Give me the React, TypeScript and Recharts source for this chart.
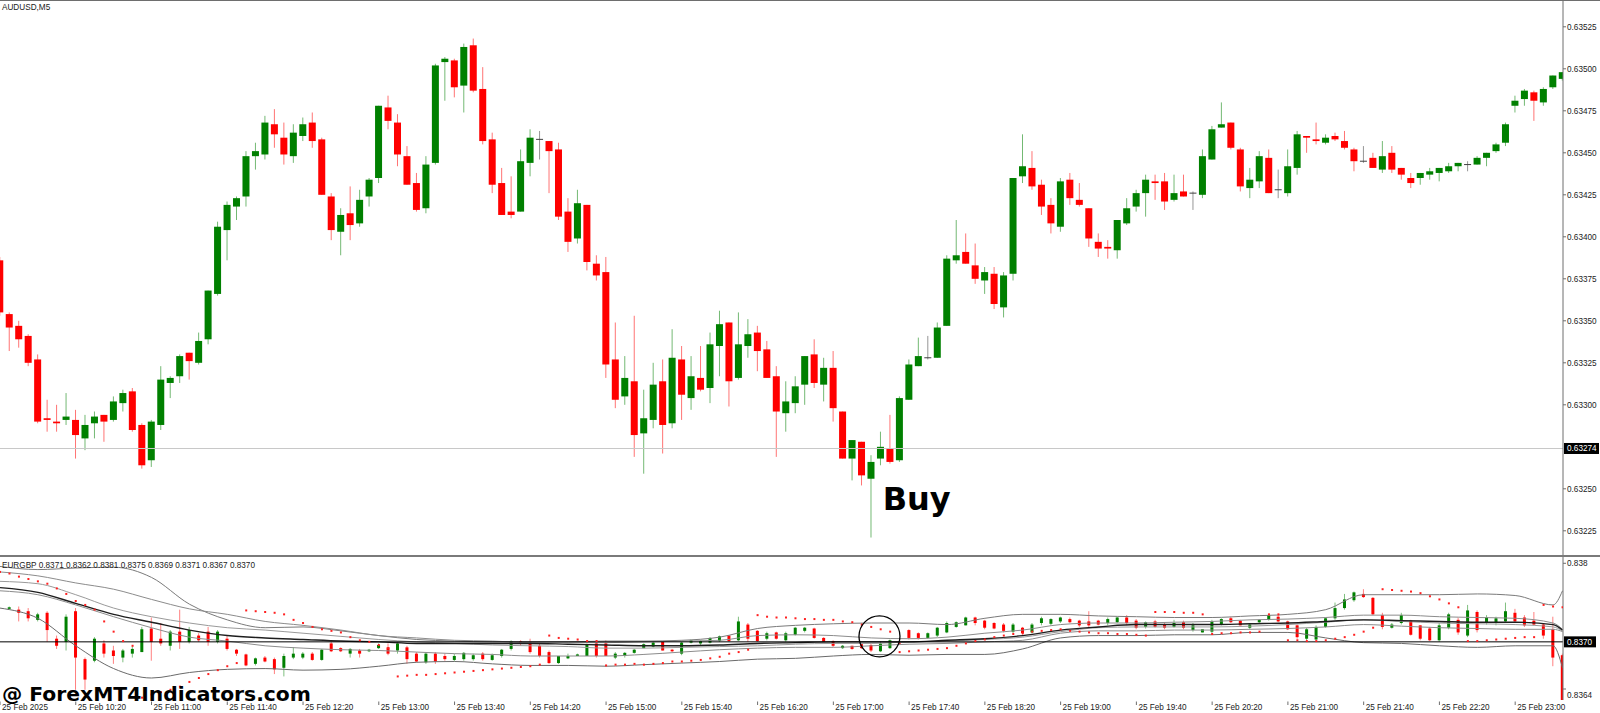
import React from 'react';
import { ComposedChart, Bar, Line, Scatter, XAxis, YAxis, ReferenceLine, ReferenceDot } from 'recharts';

// ---------------- Main panel: AUDUSD M5 ----------------
const mainOpen = [
  .63386,.63354,.63347,.63341,.63327,.63292,.63290,.63291,.63291,.63280,
  .63289,.63294,.63291,.63301,.63308,.63288,.63267,.63288,.63313,.63317,
  .63331,.63325,.63339,.63366,.63404,.63418,.63424,.63448,.63449,.63467,
  .63459,.63448,.63460,.63468,.63458,.63424,.63403,.63414,.63408,.63424,
  .63435,.63477,.63468,.63448,.63432,.63417,.63444,.63504,.63505,.63490,
  .63514,.63488,.63458,.63432,.63415,.63415,.63444,.63458,.63457,.63452,
  .63415,.63399,.63419,.63384,.63379,.63327,.63305,.63314,.63283,.63291,
  .63314,.63289,.63327,.63304,.63316,.63310,.63335,.63349,.63316,.63335,
  .63343,.63333,.63317,.63295,.63301,.63312,.63330,.63312,.63322,.63296,
  .63268,.63278,.63256,.63268,.63274,.63267,.63303,.63323,.63328,.63328,
  .63347,.63386,.63391,.63383,.63374,.63378,.63358,.63378,.63436,.63441,
  .63431,.63419,.63406,.63434,.63422,.63417,.63397,.63394,.63392,.63408,
  .63418,.63426,.63433,.63433,.63422,.63427,.63426,.63425,.63446,.63465,
  .63468,.63452,.63429,.63433,.63447,.63428,.63426,.63441,.63460,.63458,
  .63456,.63460,.63457,.63452,.63445,.63447,.63440,.63450,.63441,.63435,
  .63435,.63437,.63438,.63439,.63442,.63443,.63443,.63447,.63451,.63456,
  .63478,.63482,.63486,.63480,.63489,.63494,
];
const mainHigh = [
  .63388,.63355,.63350,.63342,.63330,.63303,.63300,.63307,.63297,.63294,
  .63296,.63294,.63305,.63309,.63310,.63289,.63291,.63323,.63317,.63330,
  .63331,.63343,.63368,.63409,.63421,.63424,.63451,.63456,.63472,.63476,
  .63468,.63467,.63471,.63474,.63459,.63426,.63417,.63430,.63428,.63435,
  .63478,.63484,.63473,.63454,.63438,.63448,.63503,.63507,.63506,.63515,
  .63518,.63501,.63462,.63441,.63436,.63452,.63464,.63463,.63457,.63456,
  .63423,.63428,.63419,.63389,.63388,.63349,.63329,.63353,.63309,.63325,
  .63327,.63345,.63335,.63329,.63335,.63343,.63356,.63349,.63355,.63351,
  .63347,.63338,.63323,.63314,.63317,.63329,.63339,.63328,.63332,.63296,
  .63279,.63278,.63270,.63284,.63294,.63305,.63327,.63340,.63341,.63349,
  .63389,.63410,.63402,.63396,.63382,.63382,.63379,.63435,.63461,.63451,
  .63434,.63423,.63435,.63438,.63432,.63417,.63402,.63398,.63410,.63423,
  .63428,.63437,.63437,.63438,.63437,.63437,.63427,.63452,.63466,.63480,
  .63468,.63453,.63441,.63451,.63452,.63440,.63452,.63463,.63460,.63468,
  .63461,.63462,.63463,.63453,.63454,.63450,.63457,.63454,.63441,.63438,
  .63438,.63441,.63441,.63444,.63444,.63445,.63448,.63450,.63456,.63468,
  .63484,.63488,.63487,.63489,.63496,.63498,
];
const mainLow = [
  .63353,.63332,.63334,.63323,.63289,.63284,.63284,.63288,.63268,.63273,
  .63280,.63278,.63290,.63296,.63284,.63262,.63263,.63285,.63304,.63313,
  .63315,.63324,.63336,.63365,.63386,.63410,.63418,.63440,.63446,.63453,
  .63443,.63444,.63457,.63453,.63425,.63398,.63389,.63398,.63406,.63418,
  .63432,.63464,.63442,.63431,.63415,.63414,.63443,.63481,.63483,.63474,
  .63486,.63455,.63426,.63413,.63411,.63415,.63436,.63446,.63426,.63410,
  .63391,.63396,.63380,.63374,.63316,.63298,.63300,.63269,.63259,.63286,
  .63271,.63286,.63291,.63297,.63308,.63301,.63317,.63299,.63315,.63328,
  .63320,.63316,.63269,.63284,.63295,.63300,.63310,.63302,.63290,.63268,
  .63255,.63252,.63221,.63264,.63265,.63266,.63303,.63323,.63327,.63328,
  .63347,.63384,.63384,.63372,.63366,.63357,.63352,.63374,.63432,.63428,
  .63413,.63402,.63403,.63419,.63418,.63394,.63388,.63387,.63387,.63407,
  .63415,.63412,.63422,.63416,.63421,.63424,.63416,.63423,.63446,.63465,
  .63452,.63427,.63423,.63429,.63426,.63423,.63424,.63437,.63450,.63455,
  .63455,.63457,.63452,.63439,.63444,.63441,.63438,.63438,.63434,.63429,
  .63431,.63434,.63433,.63438,.63439,.63439,.63443,.63442,.63450,.63454,
  .63474,.63478,.63469,.63478,.63488,.63493,
];
const mainClose = [
  .63355,.63346,.63339,.63325,.63290,.63291,.63289,.63293,.63282,.63288,
  .63293,.63290,.63302,.63307,.63285,.63264,.63290,.63315,.63316,.63329,
  .63326,.63338,.63368,.63406,.63419,.63423,.63448,.63451,.63468,.63461,
  .63449,.63462,.63467,.63457,.63425,.63404,.63413,.63407,.63422,.63434,
  .63478,.63469,.63449,.63431,.63416,.63443,.63502,.63506,.63489,.63513,
  .63487,.63457,.63431,.63413,.63413,.63445,.63459,.63458,.63451,.63412,
  .63397,.63420,.63385,.63377,.63324,.63303,.63316,.63282,.63292,.63312,
  .63288,.63328,.63306,.63317,.63309,.63336,.63348,.63314,.63336,.63342,
  .63332,.63316,.63296,.63302,.63311,.63329,.63313,.63322,.63298,.63268,
  .63279,.63258,.63266,.63275,.63266,.63304,.63324,.63329,.63328,.63346,
  .63387,.63389,.63384,.63375,.63379,.63360,.63377,.63435,.63442,.63430,
  .63418,.63408,.63433,.63423,.63419,.63399,.63393,.63393,.63410,.63417,
  .63426,.63434,.63432,.63421,.63426,.63424,.63426,.63448,.63464,.63467,
  .63453,.63430,.63434,.63448,.63426,.63428,.63442,.63461,.63459,.63457,
  .63459,.63458,.63453,.63445,.63445,.63441,.63448,.63440,.63437,.63432,
  .63438,.63439,.63441,.63442,.63444,.63443,.63447,.63450,.63455,.63467,
  .63481,.63487,.63481,.63488,.63496,.63498,
];
const mainPriceTicks = [0.63225, 0.6325, 0.633, 0.63325, 0.6335, 0.63375, 0.634, 0.63425, 0.6345, 0.63475, 0.635, 0.63525];
const mainBid = 0.63274;
const mainTitle = 'AUDUSD,M5';
const buyText = 'Buy';
const buyBar = 96.8;
const buyPrice = 0.632374;

// ---------------- Sub panel: EURGBP overlay ----------------
const subOpen = [
  null,.83742,.83741,.83739,.83728,.83737,.83704,.83700,.83739,.83678,
  .83676,.83698,.83689,.83680,.83685,.83687,.83717,.83704,.83695,.83713,
  .83700,.83708,.83713,.83700,.83704,.83690,.83684,.83672,.83680,.83678,
  .83667,.83680,.83680,.83685,.83677,.83698,.83692,.83685,.83689,.83688,
  .83692,.83693,.83689,.83693,.83685,.83674,.83685,.83682,.83677,.83678,
  .83678,.83685,.83677,.83682,.83691,.83701,.83700,.83695,.83687,.83673,
  .83679,.83682,.83682,.83698,.83698,.83680,.83682,.83686,.83692,.83694,
  .83700,.83690,.83685,.83699,.83698,.83699,.83701,.83708,.83702,.83722,
  .83714,.83704,.83712,.83702,.83709,.83714,.83717,.83705,.83701,.83692,
  .83695,.83697,.83696,.83688,.83692,.83699,.83715,.83711,.83705,.83708,
  .83712,.83719,.83721,.83731,.83727,.83724,.83722,.83713,.83718,.83712,
  .83724,.83723,.83726,.83729,.83727,.83726,.83727,.83724,.83725,.83731,
  .83727,.83719,.83726,.83722,.83719,.83725,.83715,.83712,.83713,.83722,
  .83730,.83727,.83718,.83725,.83728,.83732,.83726,.83721,.83704,.83703,
  .83719,.83730,.83743,.83753,.83761,.83756,.83734,.83718,.83724,.83727,
  .83721,.83717,.83702,.83718,.83728,.83708,.83738,.83724,.83724,.83726,
  .83737,.83731,.83727,.83722,.83716,.83683,
];
const subHigh = [
  null,.83745,.83745,.83743,.83737,.83739,.83708,.83735,.83743,.83680,
  .83706,.83702,.83695,.83691,.83695,.83719,.83731,.83724,.83715,.83741,
  .83719,.83711,.83719,.83715,.83708,.83691,.83685,.83680,.83682,.83680,
  .83685,.83693,.83687,.83687,.83691,.83700,.83693,.83692,.83691,.83691,
  .83698,.83698,.83700,.83695,.83687,.83687,.83687,.83685,.83685,.83687,
  .83685,.83687,.83685,.83691,.83702,.83702,.83704,.83698,.83689,.83682,
  .83685,.83685,.83698,.83702,.83702,.83687,.83687,.83691,.83698,.83700,
  .83701,.83691,.83700,.83703,.83702,.83706,.83708,.83708,.83732,.83724,
  .83715,.83713,.83713,.83713,.83719,.83719,.83718,.83706,.83702,.83696,
  .83695,.83698,.83698,.83701,.83703,.83700,.83716,.83712,.83712,.83719,
  .83726,.83726,.83732,.83732,.83728,.83725,.83724,.83724,.83719,.83724,
  .83732,.83730,.83732,.83731,.83728,.83739,.83728,.83731,.83732,.83734,
  .83729,.83726,.83728,.83724,.83728,.83727,.83724,.83716,.83728,.83730,
  .83732,.83728,.83724,.83729,.83735,.83734,.83727,.83722,.83718,.83721,
  .83731,.83750,.83761,.83764,.83767,.83757,.83737,.83724,.83737,.83728,
  .83721,.83719,.83724,.83737,.83731,.83747,.83740,.83734,.83732,.83750,
  .83742,.83734,.83738,.83724,.83732,.83685,
];
const subLow = [
  null,.83741,.83726,.83726,.83726,.83700,.83691,.83689,.83639,.83639,
  .83674,.83680,.83672,.83674,.83680,.83687,.83676,.83695,.83689,.83691,
  .83698,.83700,.83695,.83698,.83689,.83682,.83669,.83670,.83674,.83659,
  .83656,.83678,.83678,.83676,.83676,.83687,.83687,.83680,.83680,.83687,
  .83691,.83683,.83685,.83672,.83674,.83672,.83672,.83676,.83675,.83676,
  .83676,.83676,.83676,.83680,.83689,.83695,.83685,.83680,.83672,.83672,
  .83678,.83682,.83682,.83680,.83682,.83678,.83680,.83685,.83692,.83693,
  .83689,.83687,.83683,.83698,.83696,.83698,.83700,.83700,.83701,.83700,
  .83700,.83702,.83703,.83700,.83708,.83712,.83704,.83700,.83693,.83691,
  .83690,.83691,.83687,.83687,.83691,.83696,.83703,.83703,.83704,.83706,
  .83711,.83718,.83721,.83721,.83716,.83716,.83712,.83711,.83709,.83711,
  .83721,.83721,.83724,.83724,.83719,.83719,.83721,.83721,.83724,.83721,
  .83716,.83717,.83718,.83716,.83718,.83716,.83713,.83712,.83711,.83721,
  .83724,.83721,.83716,.83724,.83727,.83725,.83715,.83704,.83702,.83702,
  .83718,.83728,.83741,.83751,.83756,.83734,.83716,.83717,.83722,.83708,
  .83702,.83701,.83700,.83716,.83709,.83706,.83712,.83722,.83721,.83724,
  .83724,.83719,.83721,.83704,.83669,.83622,
];
const subClose = [
  null,.83744,.83737,.83730,.83735,.83715,.83695,.83732,.83680,.83652,
  .83704,.83685,.83682,.83689,.83691,.83716,.83700,.83698,.83713,.83700,
  .83715,.83702,.83700,.83713,.83691,.83685,.83670,.83679,.83675,.83665,
  .83682,.83685,.83685,.83677,.83690,.83688,.83688,.83691,.83685,.83690,
  .83696,.83685,.83698,.83678,.83675,.83685,.83675,.83678,.83682,.83686,
  .83683,.83678,.83683,.83690,.83701,.83698,.83687,.83682,.83673,.83682,
  .83682,.83684,.83696,.83682,.83682,.83685,.83686,.83690,.83697,.83699,
  .83689,.83688,.83699,.83702,.83701,.83705,.83707,.83701,.83726,.83704,
  .83701,.83711,.83704,.83711,.83718,.83718,.83705,.83700,.83695,.83695,
  .83691,.83692,.83689,.83698,.83702,.83698,.83705,.83705,.83711,.83718,
  .83724,.83725,.83731,.83724,.83718,.83717,.83714,.83722,.83711,.83722,
  .83730,.83729,.83731,.83725,.83721,.83721,.83722,.83729,.83731,.83724,
  .83718,.83725,.83719,.83718,.83724,.83718,.83721,.83716,.83726,.83729,
  .83725,.83721,.83722,.83728,.83734,.83726,.83716,.83706,.83716,.83719,
  .83730,.83743,.83754,.83763,.83757,.83735,.83719,.83722,.83734,.83709,
  .83704,.83702,.83721,.83735,.83712,.83740,.83715,.83731,.83730,.83739,
  .83726,.83721,.83722,.83708,.83680,.83622,
];
const subSar = [
  .83789,.83787,.83783,.83780,.83777,.83774,.83768,.83761,.83752,.83747,
  .83741,.83726,.83713,.83701,.83695,.83629,.83633,.83636,.83639,.83643,
  .83649,.83654,.83659,.83664,.83669,.83673,.83740,.83739,.83738,.83737,
  .83735,.83728,.83724,.83719,.83716,.83714,.83712,.83706,.83702,.83700,
  .83696,.83692,.83656,.83657,.83658,.83658,.83659,.83660,.83661,.83662,
  .83663,.83664,.83665,.83666,.83667,.83668,.83669,.83671,.83708,.83705,
  .83704,.83703,.83701,.83701,.83670,.83671,.83671,.83672,.83671,.83672,
  .83673,.83675,.83675,.83676,.83677,.83679,.83681,.83685,.83687,.83690,
  .83734,.83732,.83731,.83731,.83730,.83729,.83729,.83728,.83728,.83726,
  .83725,.83722,.83719,.83716,.83713,.83687,.83688,.83689,.83690,.83691,
  .83692,.83695,.83698,.83701,.83703,.83706,.83708,.83710,.83711,.83713,
  .83714,.83715,.83716,.83714,.83713,.83712,.83711,.83711,.83710,.83710,
  .83709,.83708,.83738,.83738,.83738,.83737,.83737,.83735,.83710,.83711,
  .83711,.83712,.83712,.83713,.83735,.83735,.83702,.83702,.83701,.83701,
  .83702,.83704,.83706,.83709,.83713,.83718,.83767,.83766,.83765,.83764,
  .83762,.83758,.83754,.83749,.83744,.83701,.83701,.83702,.83703,.83704,
  .83705,.83706,.83706,.83747,.83745,.83744,
];
// indicator lines, read every 4th bar
const bandBars = [0,4,8,12,16,20,24,28,32,36,40,44,48,52,56,60,64,68,72,76,80,84,88,92,96,100,104,108,112,116,120,124,128,132,136,140,144,148,152,156,160,164,165];
const bandUpper = [.83796,.83792,.83794,.83795,.83782,.83748,.83728,.83718,.83719,.83714,.83708,.83703,.83701,.83700,.83700,.83700,.83701,.83701,.83702,.83706,.83717,.83721,.83723,.83724,.83724,.83722,.83730,.83735,.83735,.83733,.83732,.83731,.83731,.83733,.83735,.83741,.83760,.83760,.83760,.83761,.83759,.83747,.83765];
const bandInnerUpper = [.83789,.83784,.83775,.83767,.83754,.83742,.83735,.83726,.83721,.83715,.83708,.83705,.83702,.83701,.83699,.83699,.83699,.83700,.83701,.83702,.83708,.83709,.83708,.83705,.83704,.83706,.83711,.83715,.83722,.83724,.83724,.83725,.83726,.83728,.83729,.83731,.83734,.83734,.83732,.83731,.83730,.83724,.83716];
const bandMid = [.83769,.83763,.83749,.83735,.83725,.83715,.83708,.83705,.83703,.83701,.83700,.83698,.83698,.83698,.83698,.83697,.83696,.83695,.83695,.83696,.83698,.83699,.83700,.83700,.83700,.83702,.83704,.83708,.83715,.83719,.83722,.83722,.83722,.83723,.83724,.83726,.83728,.83727,.83726,.83725,.83725,.83722,.83715];
const bandMa = [.83777,.83774,.83760,.83743,.83732,.83724,.83718,.83715,.83711,.83707,.83703,.83700,.83698,.83696,.83695,.83694,.83692,.83692,.83693,.83694,.83695,.83697,.83698,.83698,.83700,.83701,.83703,.83706,.83713,.83718,.83719,.83719,.83719,.83720,.83722,.83725,.83728,.83726,.83724,.83723,.83722,.83719,.83714];
const bandInnerLower = [.83765,.83760,.83747,.83732,.83718,.83706,.83701,.83695,.83692,.83690,.83689,.83687,.83685,.83684,.83682,.83682,.83682,.83684,.83687,.83690,.83692,.83693,.83693,.83695,.83697,.83698,.83700,.83702,.83711,.83714,.83714,.83715,.83715,.83716,.83717,.83719,.83722,.83720,.83718,.83717,.83716,.83716,.83713];
const bandLower = [.83743,.83730,.83695,.83666,.83654,.83661,.83665,.83666,.83664,.83665,.83669,.83674,.83675,.83672,.83670,.83670,.83669,.83671,.83673,.83675,.83678,.83679,.83682,.83684,.83683,.83684,.83684,.83691,.83705,.83708,.83708,.83709,.83709,.83712,.83712,.83705,.83699,.83698,.83695,.83693,.83695,.83695,.83667];
const subTicks = [0.838, 0.8364];
const subTickLabels = ['0.838', '0.8364'];
const subBid = 0.837;
const subLegend = 'EURGBP 0.8371 0.8362 0.8381 0.8375 0.8369 0.8371 0.8367 0.8370';
const circleBar = 92.87;
const circlePrice = 0.83707;
const watermark = '@ ForexMT4Indicators.com';

// time axis
const timeTickBars = [0,8,16,24,32,40,48,56,64,72,80,88,96,104,112,120,128,136,144,152,160];
const timeLabels = ['25 Feb 2025','25 Feb 10:20','25 Feb 11:00','25 Feb 11:40','25 Feb 12:20','25 Feb 13:00','25 Feb 13:40','25 Feb 14:20','25 Feb 15:00','25 Feb 15:40','25 Feb 16:20','25 Feb 17:00','25 Feb 17:40','25 Feb 18:20','25 Feb 19:00','25 Feb 19:40','25 Feb 20:20','25 Feb 21:00','25 Feb 21:40','25 Feb 22:20','25 Feb 23:00'];

// ---------------- rows ----------------
const mainRows = mainOpen.map((o, i) => ({ i, o, h: mainHigh[i], l: mainLow[i], c: mainClose[i] }));
const subRows = subOpen.map((o, i) => ({ i, o, h: subHigh[i], l: subLow[i], c: subClose[i] }));
const sarRows = subSar.map((v, i) => ({ i, v }));
const toLine = (vals: number[]) => vals.map((v, k) => ({ i: bandBars[k], v }));

const FONT = '"Liberation Sans", Arial, sans-serif';
const BOLD = '"DejaVu Sans", sans-serif';
const UP = '#008000';
const DOWN = '#ff0000';
const DOJI = '#404040';
const AXIS = '#6e6e6e';
const X_DOMAIN: [number, number] = [0, 165.05];

function makeCandle(bodyW: number, wickOpacity: number) {
  return (props: any) => {
    const { x, y, width, height, payload } = props;
    if (!payload || payload.o == null || x == null || y == null) return null;
    const { o, h, l, c } = payload;
    const top = Math.min(y, y + height);
    const span = Math.abs(height);
    const py = (p: number) => (h === l ? top : top + ((h - p) / (h - l)) * span);
    const cx = x + width / 2;
    const color = c > o ? UP : c < o ? DOWN : DOJI;
    const bt = Math.min(py(o), py(c));
    const bb = Math.max(py(o), py(c));
    return (
      <g>
        <line x1={cx} x2={cx} y1={py(h)} y2={py(l)} stroke={color} strokeOpacity={wickOpacity} strokeWidth={1} />
        {c === o ? (
          <line x1={cx - bodyW / 2} x2={cx + bodyW / 2} y1={bt} y2={bt} stroke={color} strokeWidth={1} />
        ) : (
          <rect x={cx - bodyW / 2} y={bt} width={bodyW} height={Math.max(1, bb - bt)} fill={color} />
        )}
      </g>
    );
  };
}
const MainCandle = makeCandle(7, 0.55);
const SubCandle = makeCandle(3, 0.5);

const PriceTick = (p: any) => {
  const { x, y, payload } = p;
  return (
    <g>
      <line x1={x} x2={x + 3} y1={y} y2={y} stroke={AXIS} />
      <text x={x + 4} y={y + 3} fontSize={8.2} fontFamily={FONT} fill="#222">{Number(payload.value).toFixed(5)}</text>
    </g>
  );
};

const SubTick = (p: any) => {
  const { x, y, payload } = p;
  const idx = subTicks.indexOf(payload.value);
  const dy = idx === subTicks.length - 1 ? 6 : 0;
  return (
    <g>
      <line x1={x} x2={x + 3} y1={y} y2={y} stroke={AXIS} />
      <text x={x + 4} y={y + 3 + dy} fontSize={8.2} fontFamily={FONT} fill="#222">{subTickLabels[idx]}</text>
    </g>
  );
};

const TimeTick = (p: any) => {
  const { x, y, payload } = p;
  const idx = timeTickBars.indexOf(payload.value);
  return (
    <g>
      <line x1={x} x2={x} y1={y + 1.5} y2={y + 5} stroke={AXIS} />
      <text x={x + 2} y={y + 10} fontSize={8.2} fontFamily={FONT} fill="#222">{timeLabels[idx]}</text>
    </g>
  );
};

const BidLabel = (p: any) => {
  const { viewBox, text, w } = p;
  if (!viewBox) return null;
  const lx = viewBox.x + viewBox.width + 1;
  const y = viewBox.y;
  return (
    <g>
      <rect x={lx} y={y - 5.5} width={w} height={11} fill="#000" />
      <text x={lx + 3} y={y + 3} fontSize={8.2} fontFamily={FONT} fill="#fff">{text}</text>
    </g>
  );
};

const SarDot = (p: any) => {
  const { cx, cy } = p;
  if (cx == null || cy == null) return null;
  return <rect x={cx - 1} y={cy - 1} width={2} height={2} fill="#ff2020" />;
};

function MainChart() {
  return (
    <ComposedChart width={1600} height={556} data={mainRows} margin={{ top: 1, right: 0, bottom: 1, left: 0 }}>
      <XAxis type="number" dataKey="i" domain={X_DOMAIN} allowDataOverflow hide />
      <YAxis
        type="number"
        orientation="right"
        width={37}
        domain={[0.632106, 0.6354036]}
        allowDataOverflow
        ticks={mainPriceTicks}
        interval={0}
        tickLine={false}
        tickSize={0}
        tickMargin={0}
        axisLine={{ stroke: AXIS }}
        tick={(p: any) => <PriceTick {...p} />}
      />
      <ReferenceLine y={mainBid} stroke="#c8c8c8" label={(p: any) => <BidLabel {...p} text={mainBid.toFixed(5)} w={35} />} />
      <Bar dataKey={(d: any) => [d.l, d.h]} shape={MainCandle} barSize={7} isAnimationActive={false} />
      <ReferenceDot
        x={buyBar}
        y={buyPrice}
        r={1}
        fill="none"
        stroke="none"
        label={(p: any) => {
          const vb = p.viewBox || { x: 0, y: 0, width: 0, height: 0 };
          return (
            <text x={vb.x + vb.width / 2} y={vb.y + vb.height / 2} textAnchor="middle" fontFamily={BOLD} fontWeight="bold" fontSize={32} fill="#000">
              {buyText}
            </text>
          );
        }}
      />
    </ComposedChart>
  );
}

function SubChart() {
  const lines: [number[], string, number][] = [
    [bandUpper, '#7a7a7a', 1],
    [bandInnerUpper, '#8c8c8c', 1],
    [bandMa, '#9a9a9a', 1],
    [bandInnerLower, '#8c8c8c', 1],
    [bandLower, '#6a6a6a', 1],
    [bandMid, '#1e1e1e', 1.4],
  ];
  return (
    <ComposedChart width={1600} height={156} data={subRows} margin={{ top: 0, right: 0, bottom: 0, left: 0 }}>
      <XAxis
        type="number"
        dataKey="i"
        domain={X_DOMAIN}
        allowDataOverflow
        ticks={timeTickBars}
        interval={0}
        height={13}
        tickLine={false}
        axisLine={false}
        tickSize={0}
        tickMargin={0}
        tick={(p: any) => <TimeTick {...p} />}
      />
      <YAxis
        type="number"
        orientation="right"
        width={37}
        domain={[0.83626, 0.83808]}
        allowDataOverflow
        ticks={subTicks}
        interval={0}
        tickLine={false}
        tickSize={0}
        tickMargin={0}
        axisLine={{ stroke: AXIS }}
        tick={(p: any) => <SubTick {...p} />}
      />
      {lines.map(([vals, color, w], k) => (
        <Line
          key={k}
          data={toLine(vals)}
          dataKey="v"
          type="monotone"
          stroke={color}
          strokeWidth={w}
          dot={false}
          activeDot={false}
          isAnimationActive={false}
        />
      ))}
      <ReferenceLine y={subBid} stroke="#000" label={(p: any) => <BidLabel {...p} text="0.8370" w={32} />} />
      <Bar dataKey={(d: any) => (d.o == null ? null : [d.l, d.h])} shape={SubCandle} barSize={3} isAnimationActive={false} />
      <Scatter data={sarRows} dataKey="v" shape={SarDot} isAnimationActive={false} />
      <ReferenceDot x={circleBar} y={circlePrice} r={20.5} fill="none" stroke="#000" strokeWidth={1.3} />
    </ComposedChart>
  );
}

export default function App() {
  return (
    <div style={{ position: 'fixed', left: 0, top: 0, width: 1600, height: 713, background: '#fff', overflow: 'hidden' }}>
      <div style={{ position: 'absolute', left: 0, top: 0 }}>
        <MainChart />
      </div>
      <div style={{ position: 'absolute', left: 0, top: 557 }}>
        <SubChart />
      </div>
      <svg width={1600} height={713} style={{ position: 'absolute', left: 0, top: 0, pointerEvents: 'none' }}>
        <line x1={0} x2={1600} y1={0.5} y2={0.5} stroke={AXIS} />
        <rect x={0} y={555} width={1600} height={2} fill="#7a7a7a" />
        <text x={2} y={9.6} fontSize={8.2} fontFamily={FONT} fill="#222">{mainTitle}</text>
        <text x={2} y={568} fontSize={8.2} fontFamily={FONT} fill="#222">{subLegend}</text>
        <text x={2} y={701} fontSize={20.3} fontFamily={BOLD} fontWeight="bold" fill="#000">{watermark}</text>
      </svg>
    </div>
  );
}
